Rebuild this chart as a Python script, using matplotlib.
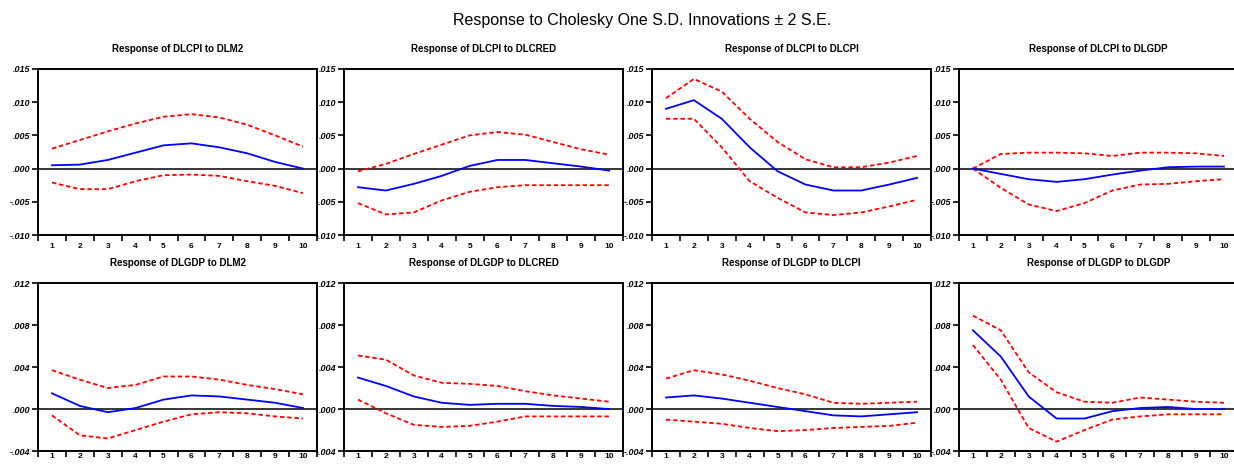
import numpy as np
import matplotlib.pyplot as plt

plt.rcParams['font.family'] = ['Liberation Sans', 'DejaVu Sans']

periods = np.arange(1, 11)

titles = [
    "Response of DLCPI to DLM2", "Response of DLCPI to DLCRED",
    "Response of DLCPI to DLCPI", "Response of DLCPI to DLGDP",
    "Response of DLGDP to DLM2", "Response of DLGDP to DLCRED",
    "Response of DLGDP to DLCPI", "Response of DLGDP to DLGDP",
]

# impulse responses (blue) and +/- 2 S.E. bands (red)
resp_cpi_m2 = [0.0005, 0.0006, 0.0013, 0.0024, 0.0035, 0.0038, 0.0032, 0.0023, 0.0010, 0.0000]
up_cpi_m2 = [0.0030, 0.0043, 0.0056, 0.0068, 0.0078, 0.0082, 0.0077, 0.0066, 0.0050, 0.0033]
lo_cpi_m2 = [-0.0021, -0.0031, -0.0031, -0.0019, -0.0010, -0.0009, -0.0011, -0.0019, -0.0026, -0.0037]

resp_cpi_cred = [-0.0028, -0.0033, -0.0023, -0.0011, 0.0004, 0.0013, 0.0013, 0.0008, 0.0003, -0.0003]
up_cpi_cred = [-0.0004, 0.0007, 0.0022, 0.0036, 0.0050, 0.0055, 0.0051, 0.0040, 0.0029, 0.0021]
lo_cpi_cred = [-0.0052, -0.0069, -0.0066, -0.0048, -0.0035, -0.0028, -0.0025, -0.0025, -0.0025, -0.0025]

resp_cpi_cpi = [0.0090, 0.0103, 0.0075, 0.0032, -0.0004, -0.0024, -0.0033, -0.0033, -0.0024, -0.0014]
up_cpi_cpi = [0.0106, 0.0135, 0.0116, 0.0075, 0.0040, 0.0014, 0.0002, 0.0002, 0.0009, 0.0019]
lo_cpi_cpi = [0.0075, 0.0075, 0.0032, -0.0019, -0.0044, -0.0066, -0.0070, -0.0066, -0.0057, -0.0047]

resp_cpi_gdp = [0.0000, -0.0008, -0.0016, -0.0020, -0.0016, -0.0009, -0.0003, 0.0002, 0.0003, 0.0003]
up_cpi_gdp = [0.0000, 0.0022, 0.0024, 0.0024, 0.0023, 0.0019, 0.0024, 0.0024, 0.0023, 0.0019]
lo_cpi_gdp = [0.0000, -0.0029, -0.0054, -0.0064, -0.0052, -0.0033, -0.0024, -0.0023, -0.0019, -0.0016]

resp_gdp_m2 = [0.0015, 0.0003, -0.0003, 0.0001, 0.0009, 0.0013, 0.0012, 0.0009, 0.0006, 0.0001]
up_gdp_m2 = [0.0037, 0.0028, 0.0020, 0.0023, 0.0031, 0.0031, 0.0028, 0.0023, 0.0019, 0.0014]
lo_gdp_m2 = [-0.0006, -0.0025, -0.0028, -0.0020, -0.0012, -0.0005, -0.0003, -0.0004, -0.0007, -0.0009]

resp_gdp_cred = [0.0030, 0.0022, 0.0012, 0.0006, 0.0004, 0.0005, 0.0005, 0.0003, 0.0002, 0.0000]
up_gdp_cred = [0.0051, 0.0047, 0.0032, 0.0025, 0.0024, 0.0022, 0.0017, 0.0013, 0.0010, 0.0007]
lo_gdp_cred = [0.0009, -0.0004, -0.0015, -0.0017, -0.0016, -0.0012, -0.0007, -0.0007, -0.0007, -0.0007]

resp_gdp_cpi = [0.0011, 0.0013, 0.0010, 0.0006, 0.0002, -0.0002, -0.0006, -0.0007, -0.0005, -0.0003]
up_gdp_cpi = [0.0029, 0.0037, 0.0033, 0.0027, 0.0020, 0.0014, 0.0006, 0.0005, 0.0006, 0.0007]
lo_gdp_cpi = [-0.0010, -0.0012, -0.0014, -0.0018, -0.0021, -0.0020, -0.0018, -0.0017, -0.0016, -0.0013]

resp_gdp_gdp = [0.0075, 0.0050, 0.0012, -0.0009, -0.0009, -0.0002, 0.0001, 0.0002, 0.0000, 0.0000]
up_gdp_gdp = [0.0089, 0.0075, 0.0035, 0.0016, 0.0007, 0.0006, 0.0011, 0.0009, 0.0007, 0.0006]
lo_gdp_gdp = [0.0061, 0.0028, -0.0018, -0.0031, -0.0020, -0.0010, -0.0007, -0.0005, -0.0005, -0.0005]

panels = [
    (resp_cpi_m2, up_cpi_m2, lo_cpi_m2),
    (resp_cpi_cred, up_cpi_cred, lo_cpi_cred),
    (resp_cpi_cpi, up_cpi_cpi, lo_cpi_cpi),
    (resp_cpi_gdp, up_cpi_gdp, lo_cpi_gdp),
    (resp_gdp_m2, up_gdp_m2, lo_gdp_m2),
    (resp_gdp_cred, up_gdp_cred, lo_gdp_cred),
    (resp_gdp_cpi, up_gdp_cpi, lo_gdp_cpi),
    (resp_gdp_gdp, up_gdp_gdp, lo_gdp_gdp),
]

top_ticks = [0.015, 0.010, 0.005, 0.000, -0.005, -0.010]
top_labels = [".015", ".010", ".005", ".000", "-.005", "-.010"]
bot_ticks = [0.012, 0.008, 0.004, 0.000, -0.004]
bot_labels = [".012", ".008", ".004", ".000", "-.004"]

fig = plt.figure(figsize=(12.34, 4.66), dpi=100)
fig.text(0.52, 0.955, "Response to Cholesky One S.D. Innovations \u00b1 2 S.E.",
         ha='center', va='center', fontsize=11.5)

lefts = [0.0308, 0.2788, 0.5284, 0.7771]
w = 0.2261

for i, (resp, up, lo) in enumerate(panels):
    row, col = divmod(i, 4)
    if row == 0:
        ax = fig.add_axes([lefts[col], 0.4957, w, 0.3563])
        yt, yl = top_ticks, top_labels
        ax.set_ylim(-0.010, 0.015)
        xpad = 6
    else:
        ax = fig.add_axes([lefts[col], 0.032, w, 0.3607])
        yt, yl = bot_ticks, bot_labels
        ax.set_ylim(-0.004, 0.012)
        xpad = 1.5

    ax.axhline(0, color='black', lw=1.1, zorder=1)
    ax.plot(periods, resp, color='#0000ff', lw=1.3, zorder=3)
    ax.plot(periods, up, color='#ff0000', lw=1.3, ls=(0, (2.5, 1.5)), zorder=2)
    ax.plot(periods, lo, color='#ff0000', lw=1.3, ls=(0, (2.5, 1.5)), zorder=2)

    ax.set_xlim(0.5, 10.5)
    ax.set_xticks(np.arange(0.5, 11, 1))
    ax.set_xticklabels([])
    ax.set_xticks(periods, minor=True)
    ax.set_xticklabels([str(p) for p in periods], minor=True, fontsize=6, fontweight='bold')
    ax.tick_params(axis='x', which='major', direction='out', length=4, width=1.2)
    ax.tick_params(axis='x', which='minor', length=0, pad=xpad)
    ax.set_yticks(yt)
    ax.set_yticklabels(yl, fontsize=6.5, fontweight='bold', fontstyle='italic')
    ax.tick_params(axis='y', direction='out', length=4, width=1.2, pad=1.5)

    for s in ax.spines.values():
        s.set_linewidth(1.4)
    ax.set_title(titles[i], fontsize=7, fontweight='bold', pad=12)

fig.savefig("out.png", dpi=100)
